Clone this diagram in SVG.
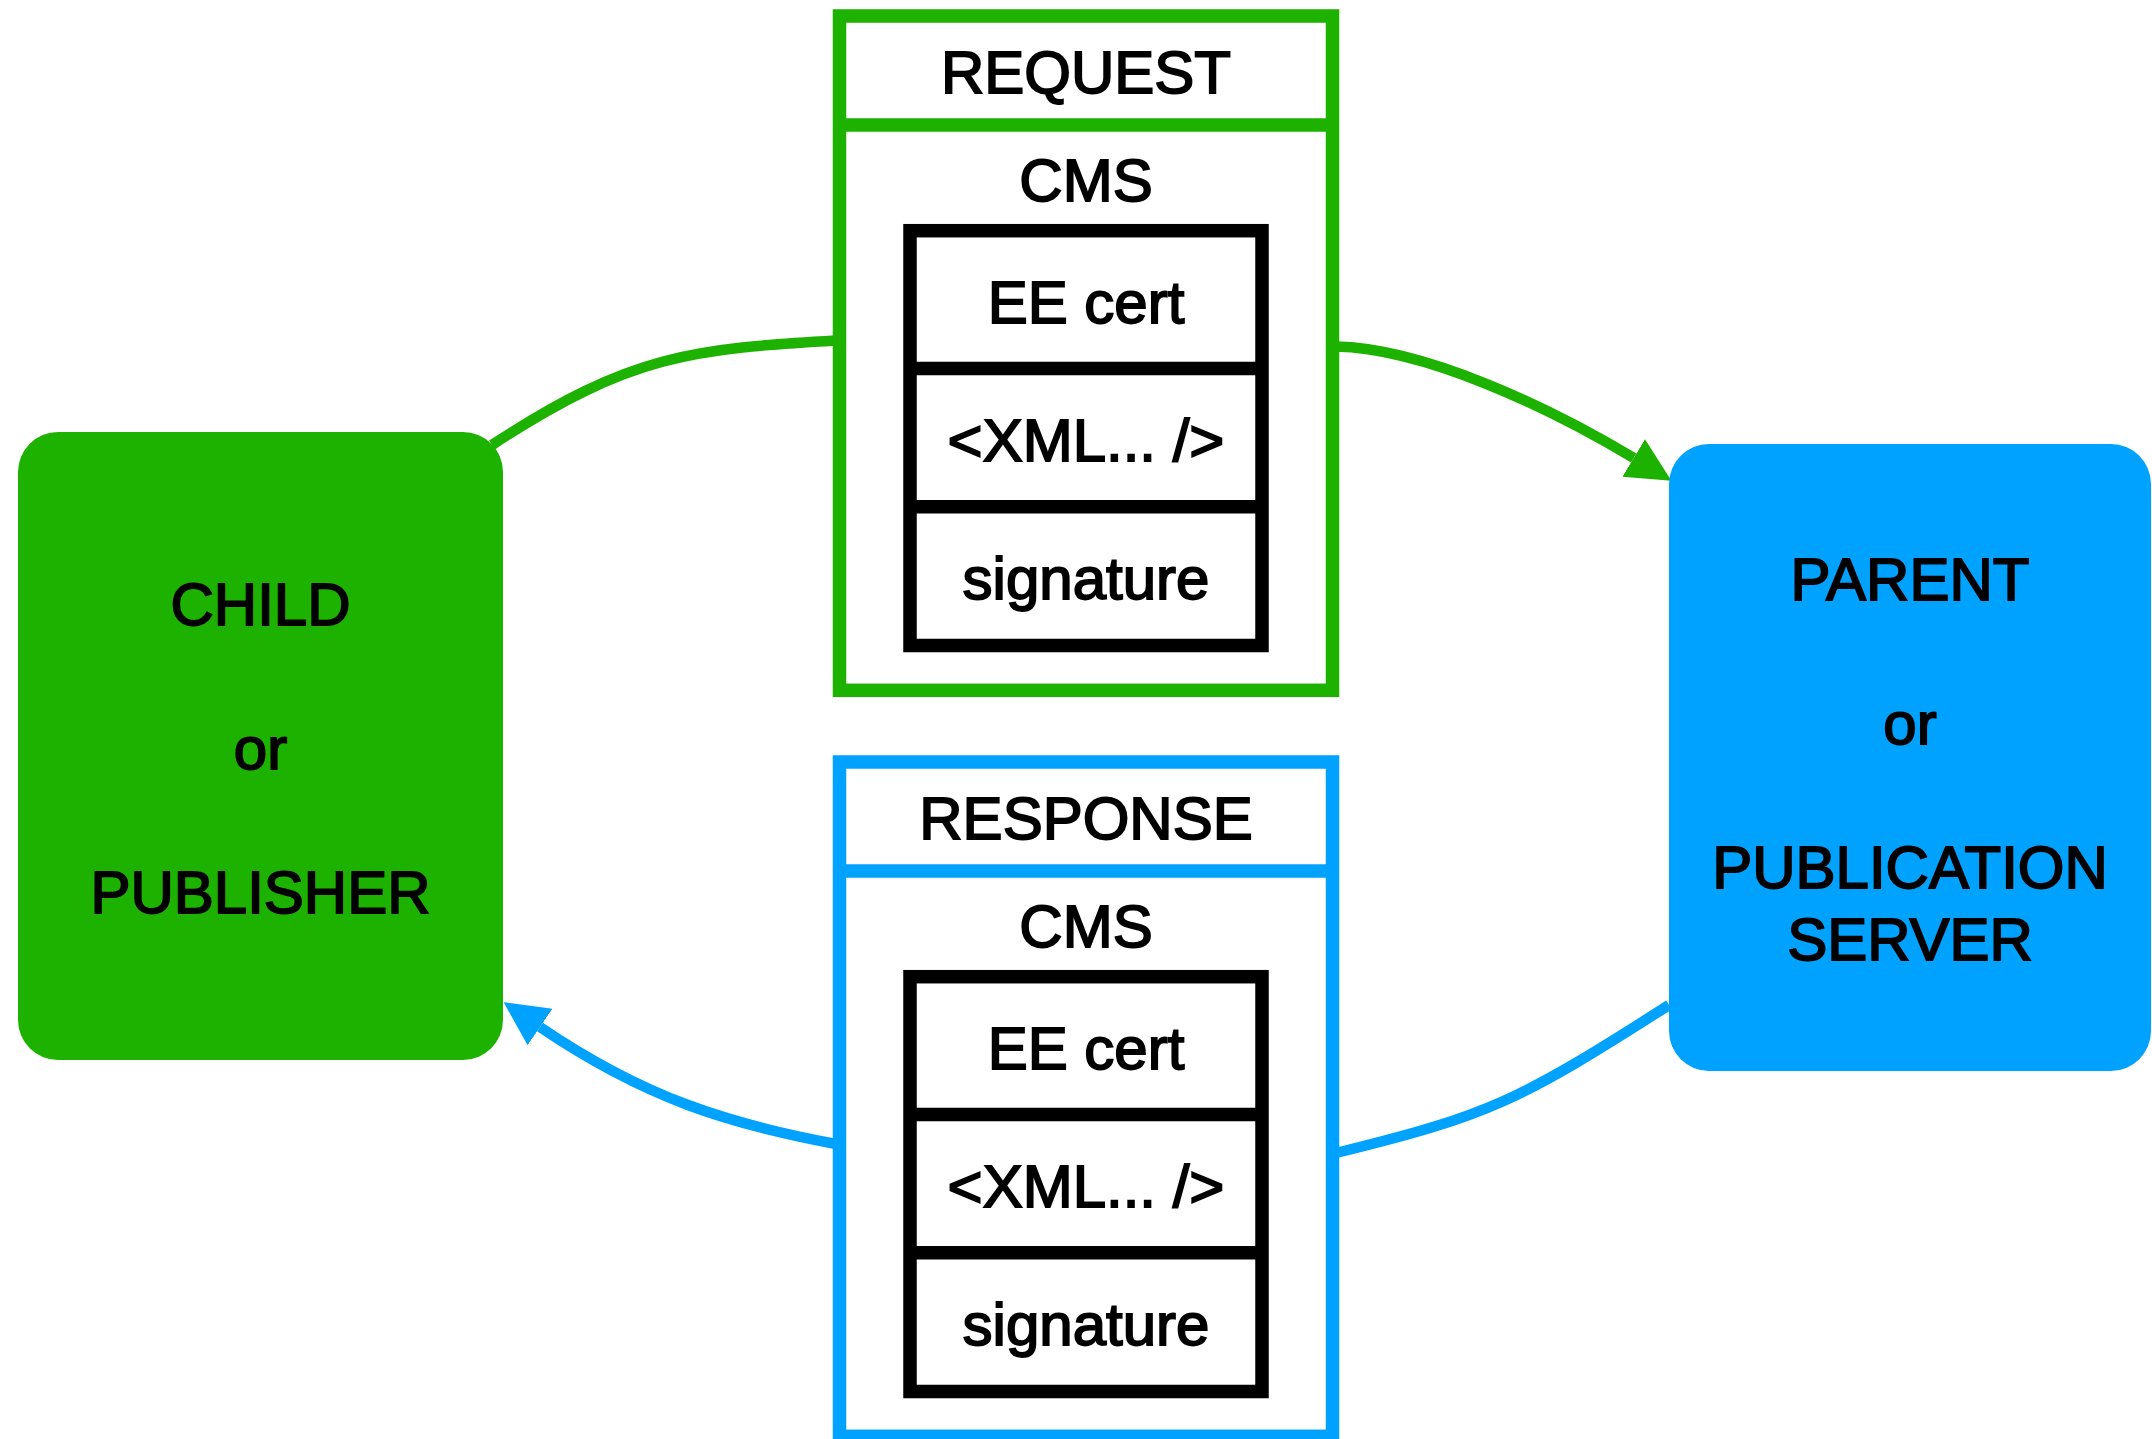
<svg xmlns="http://www.w3.org/2000/svg" width="2152" height="1439" viewBox="0 0 2152 1439">
<style>
text{font-family:"Liberation Sans",Arial,Helvetica,sans-serif;font-size:60px;fill:#000;stroke:#000;stroke-width:1.8px;text-anchor:middle}
.msg{fill:#fff;stroke-width:13.5}
.req{stroke:#1DB100}
.res{stroke:#00A2FF}
.cms{fill:#fff;stroke:#000;stroke-width:13.5}
.sep{stroke-width:13.5}
.conn{fill:none;stroke-width:10.5}
</style>
<defs>
<marker id="ahG" markerUnits="userSpaceOnUse" viewBox="0 -23 46 46" markerWidth="46" markerHeight="46" refX="0" refY="0" orient="auto">
<path d="M0,-22 L44,0 L0,22 Z" fill="#1DB100"/>
</marker>
<marker id="ahB" markerUnits="userSpaceOnUse" viewBox="0 -23 46 46" markerWidth="46" markerHeight="46" refX="0" refY="0" orient="auto">
<path d="M0,-22 L44,0 L0,22 Z" fill="#00A2FF"/>
</marker>
</defs>
<rect width="2152" height="1439" fill="#fff"/>
<g id="connectors">
<path class="conn" stroke="#1DB100" d="M492,445 C631,353.3 695,348.8 836,340.5"/>
<path class="conn" stroke="#1DB100" marker-end="url(#ahG)" d="M1336,346.5 C1424,348.2 1547.7,406.4 1633.7,458"/>
<path class="conn" stroke="#00A2FF" d="M1669,1005 C1519,1101 1489,1115.5 1336,1153"/>
<path class="conn" stroke="#00A2FF" marker-end="url(#ahB)" d="M836,1144 C729,1124 645,1098.4 540,1027"/>
</g>
<g id="child">
<rect x="18" y="432" width="485" height="628" rx="40" fill="#1DB100"/>
<text x="260.5" y="625">CHILD</text>
<text x="260.5" y="769">or</text>
<text x="260.5" y="913">PUBLISHER</text>
</g>
<g id="parent">
<rect x="1669" y="444" width="482" height="627" rx="40" fill="#00A2FF"/>
<text x="1910" y="599.5">PARENT</text>
<text x="1910" y="743.5">or</text>
<text x="1910" y="887.5">PUBLICATION</text>
<text x="1910" y="959.5">SERVER</text>
</g>
<g id="request">
<rect class="msg req" x="839.5" y="16" width="493" height="674.3"/>
<line class="sep req" x1="839.5" y1="125" x2="1332.5" y2="125"/>
<text x="1086" y="93">REQUEST</text>
<text x="1086" y="201">CMS</text>
<rect class="cms" x="910" y="230.7" width="352" height="414.8"/>
<line class="sep" stroke="#000" x1="910" y1="368.5" x2="1262" y2="368.5"/>
<line class="sep" stroke="#000" x1="910" y1="506.8" x2="1262" y2="506.8"/>
<text x="1086" y="323">EE cert</text>
<text x="1086" y="461">&lt;XML... /&gt;</text>
<text x="1086" y="599">signature</text>
</g>
<g id="response">
<rect class="msg res" x="839.5" y="762" width="493" height="674.3"/>
<line class="sep res" x1="839.5" y1="871" x2="1332.5" y2="871"/>
<text x="1086" y="839">RESPONSE</text>
<text x="1086" y="947">CMS</text>
<rect class="cms" x="910" y="976.7" width="352" height="414.8"/>
<line class="sep" stroke="#000" x1="910" y1="1114.5" x2="1262" y2="1114.5"/>
<line class="sep" stroke="#000" x1="910" y1="1252.8" x2="1262" y2="1252.8"/>
<text x="1086" y="1069">EE cert</text>
<text x="1086" y="1207">&lt;XML... /&gt;</text>
<text x="1086" y="1345">signature</text>
</g>
</svg>
